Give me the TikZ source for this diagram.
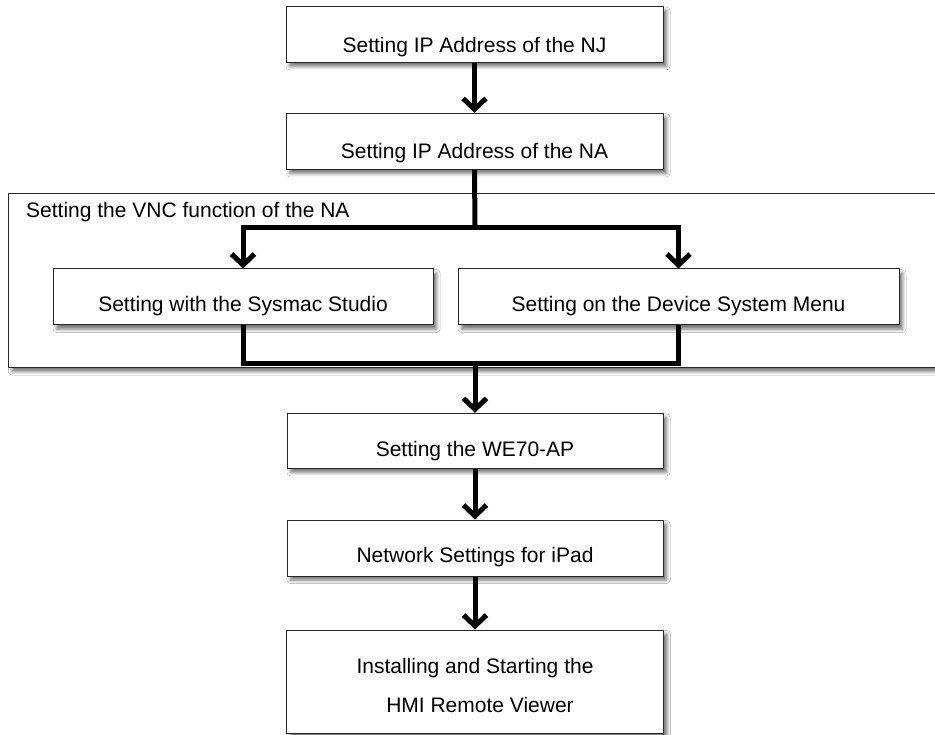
\documentclass[tikz,border=0pt]{standalone}
\usepackage{fontspec}
\setmainfont{Liberation Sans}
\usetikzlibrary{arrows.meta,shadows.blur}
\begin{document}
\begin{tikzpicture}[x=1pt,y=-1pt,
  every node/.style={font=\fontsize{21}{39}\selectfont},
  shad/.style={blur shadow={shadow xshift=3.5pt, shadow yshift=-4pt, shadow blur radius=3.5pt, shadow opacity=55}},
  boxstyle/.style={draw=black!85, line width=1pt, fill=white, rectangle,
    inner sep=0pt, text height=#1, text depth=0pt, shad},
  conn/.style={line width=5pt, black},
  tip/.tip={Straight Barb[length=11pt,width=23pt,line width=5pt]}
]
\clip (0,0) rectangle (935,735);
\fill[white] (0,0) rectangle (935,735);
% outer group
\node[draw=black!85, line width=1pt, fill=white, inner sep=0pt, anchor=north west,
  minimum width=940pt, minimum height=174pt, shad]
  (grp) at (8,193) {};
\node[anchor=base west, inner sep=0pt] (grplabel) at (26,218) {Setting the VNC function of the NA};

\node[boxstyle=35.6pt, minimum width=377pt, minimum height=55.6pt] (nj) at (474.5,34.5) {Setting IP Address of the NJ};
\node[boxstyle=34.4pt, minimum width=377pt, minimum height=56pt] (na) at (474.5,141.3) {Setting IP Address of the NA};
\node[boxstyle=29.4pt, minimum width=380pt, minimum height=56pt] (sys) at (243,297) {Setting with the Sysmac Studio};
\node[boxstyle=29.4pt, minimum width=441pt, minimum height=56pt] (dev) at (678.5,297) {Setting on the Device System Menu};
\node[boxstyle=30.4pt, minimum width=376pt, minimum height=55pt] (we) at (475,440.8) {Setting the WE70-AP};
\node[boxstyle=29.4pt, minimum width=376pt, minimum height=56pt] (ipad) at (475,548) {Network Settings for iPad};
\node[boxstyle=0pt, minimum width=377pt, minimum height=103pt, text height=0pt] (hmi) at (475,681.5) {};
\node[anchor=base, inner sep=0pt] (hmi1) at (475,673) {Installing and Starting the};
\node[anchor=base, inner sep=0pt] (hmi2) at (480,712) {HMI Remote Viewer};

\coordinate (split) at (475,227.5);
\coordinate (join) at (475,364);

\draw[conn,-{tip}] (nj.south) -- (na.north);
\draw[conn] (na.south) -- (split);
\draw[conn,{tip}-{tip}] (sys.north) |- (split) -| (dev.north);
\draw[conn] (sys.south) |- (join) -| (dev.south);
\draw[conn,-{tip}] (join) -- (we.north);
\draw[conn,-{tip}] (we.south) -- (ipad.north);
\draw[conn,-{tip}] (ipad.south) -- (hmi.north);
\end{tikzpicture}
\end{document}
